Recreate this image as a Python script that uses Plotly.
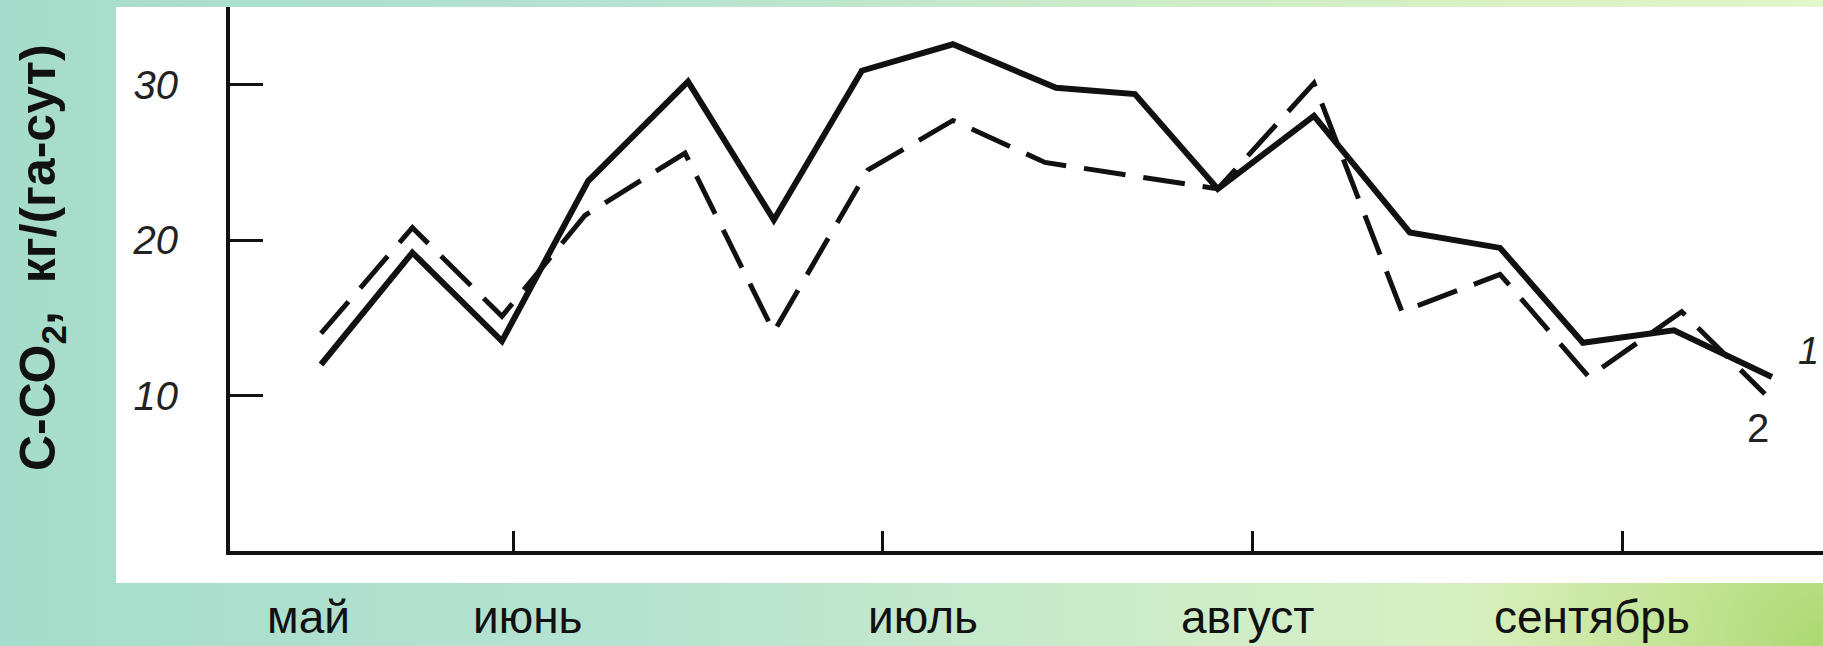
import base64
import plotly.graph_objects as go

# ---- data (x in months: 1 = 1 June, 2 = 1 July, 3 = 1 Aug, 4 = 1 Sept) ----
MONTHS = ["май", "июнь", "июль", "август", "сентябрь"]
MONTH_LABEL_POS = [0.446, 1.041, 2.108, 2.986, 3.916]
MONTH_TICKS = [1, 2, 3, 4]

SERIES1_X = [0.481, 0.728, 0.970, 1.203, 1.473, 1.705, 1.943, 2.189, 2.468,
             2.681, 2.905, 3.165, 3.424, 3.668, 3.892, 4.138, 4.403]
SERIES1_Y = [12.0, 19.2, 13.5, 23.8, 30.2, 21.3, 30.9, 32.6, 29.8,
             29.4, 23.3, 28.0, 20.5, 19.5, 13.4, 14.2, 11.2]

SERIES2_X = [0.481, 0.728, 0.970, 1.195, 1.465, 1.705, 1.959, 2.189, 2.438,
             2.905, 3.165, 3.403, 3.668, 3.908, 4.159, 4.384]
SERIES2_Y = [14.0, 20.8, 15.1, 21.6, 25.6, 14.1, 24.5, 27.7, 25.0,
             23.3, 30.1, 15.4, 17.8, 11.2, 15.4, 10.1]

Y_TICKS = [10, 20, 30]
Y_TITLE = "С-СО<sub>2</sub>,  кг/(га-сут)"
SERIES_NAMES = ["1", "2"]

# ---- geometry ----
W, H = 1823, 646
L, R, T, B = 230, 0, 7, 95
PW, PH = W - L - R, H - T - B


def px(xp):
    return (xp - L) / PW


def py(yp):
    return (H - B - yp) / PH


# background gradient as svg image
svg = f'''<svg xmlns="http://www.w3.org/2000/svg" width="{W}" height="{H}" viewBox="0 0 {W} {H}" preserveAspectRatio="none">
<defs>
<linearGradient id="g" x1="0" y1="0" x2="1" y2="0">
<stop offset="0" stop-color="#a6dccb"/>
<stop offset="0.35" stop-color="#b6e3d1"/>
<stop offset="0.6" stop-color="#cbebc9"/>
<stop offset="0.85" stop-color="#dbf2c3"/>
<stop offset="1" stop-color="#e4f6cc"/>
</linearGradient>
<radialGradient id="r" cx="{W}" cy="{H}" r="420" gradientUnits="userSpaceOnUse">
<stop offset="0" stop-color="#a6d566" stop-opacity="0.9"/>
<stop offset="0.6" stop-color="#bfe08c" stop-opacity="0.5"/>
<stop offset="1" stop-color="#d8f0b8" stop-opacity="0"/>
</radialGradient>
</defs>
<rect width="{W}" height="{H}" fill="url(#g)"/>
<rect width="{W}" height="{H}" fill="url(#r)"/>
</svg>'''
svg_uri = "data:image/svg+xml;base64," + base64.b64encode(svg.encode()).decode()

fig = go.Figure()

fig.add_trace(go.Scatter(
    x=SERIES1_X, y=SERIES1_Y, mode="lines", name=SERIES_NAMES[0],
    line=dict(color="#111111", width=6), showlegend=False,
))
fig.add_trace(go.Scatter(
    x=SERIES2_X, y=SERIES2_Y, mode="lines", name=SERIES_NAMES[1],
    line=dict(color="#111111", width=5, dash="42px,18px"), showlegend=False,
))

annotations = []
for name, pos in zip(MONTHS, MONTH_LABEL_POS):
    annotations.append(dict(
        x=pos, xref="x", y=py(617), yref="paper", text=name, showarrow=False,
        xanchor="center", yanchor="middle",
        font=dict(family="Liberation Sans, Arial", size=46, color="#111111"),
    ))
annotations.append(dict(
    x=px(41), xref="paper", y=py(258), yref="paper", text=Y_TITLE,
    textangle=-90, showarrow=False, xanchor="center", yanchor="middle",
    font=dict(family="Liberation Sans, Arial", size=50, color="#111111", weight="bold"),
))
annotations.append(dict(
    x=px(1821), xref="paper", y=py(351), yref="paper", text=SERIES_NAMES[0],
    showarrow=False, xanchor="right", yanchor="middle",
    font=dict(family="Liberation Sans, Arial", size=38, color="#222222", style="italic"),
))
annotations.append(dict(
    x=px(1758), xref="paper", y=py(428), yref="paper", text=SERIES_NAMES[1],
    showarrow=False, xanchor="center", yanchor="middle",
    font=dict(family="Liberation Sans, Arial", size=40, color="#222222"),
))

fig.update_layout(
    width=W, height=H, autosize=False,
    margin=dict(l=L, r=R, t=T, b=B, pad=0),
    paper_bgcolor="#b8e4d2",
    plot_bgcolor="rgba(0,0,0,0)",
    images=[dict(source=svg_uri, xref="paper", yref="paper",
                 x=px(0), y=py(0), sizex=W / PW, sizey=H / PH,
                 xanchor="left", yanchor="top", sizing="stretch", layer="below")],
    shapes=[dict(type="rect", xref="paper", yref="paper",
                 x0=px(116), x1=px(W + 5), y0=py(583), y1=py(T),
                 fillcolor="white", line=dict(width=0), layer="below")],
    annotations=annotations,
    xaxis=dict(range=[0.235, 4.541], showgrid=False, zeroline=False,
               showline=True, linecolor="#111111", linewidth=4,
               tickmode="array", tickvals=MONTH_TICKS, ticks="inside",
               ticklen=20, tickwidth=3, tickcolor="#111111",
               showticklabels=False, fixedrange=True),
    yaxis=dict(range=[0, 35], showgrid=False, zeroline=False,
               showline=True, linecolor="#111111", linewidth=4,
               tickmode="array", tickvals=Y_TICKS, ticks="inside",
               ticklen=33, tickwidth=3, tickcolor="#111111",
               ticklabelstandoff=40,
               tickfont=dict(family="Liberation Sans, Arial", size=40,
                             color="#222222", style="italic"),
               fixedrange=True),
)

fig.write_html("out.html")
